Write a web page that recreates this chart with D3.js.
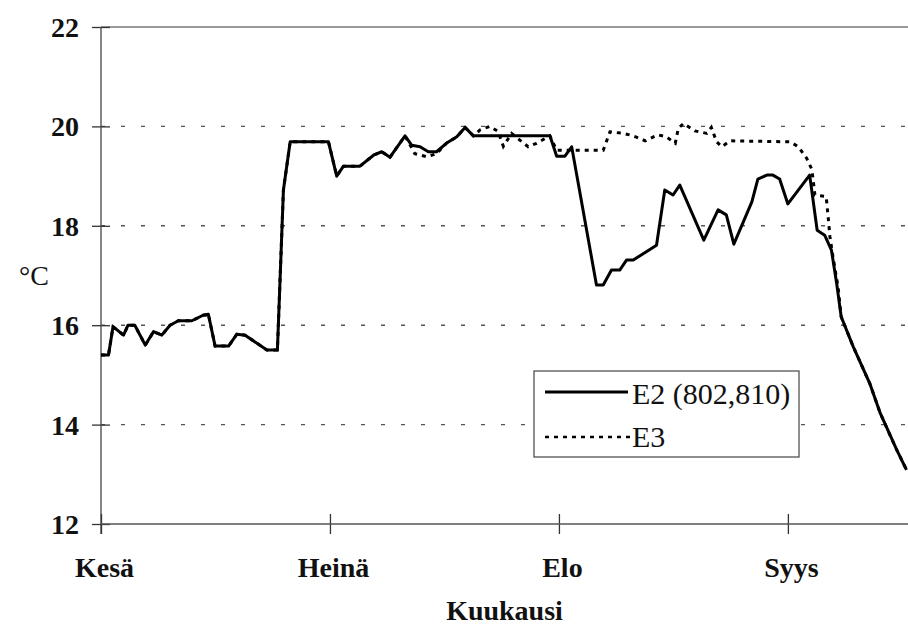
<!DOCTYPE html>
<html>
<head>
<meta charset="utf-8">
<script src="https://cdn.jsdelivr.net/npm/d3@7"></script>
</head>
<body style="margin:0; background:#fff">
<div id="viz"></div>
<script>
// day since 1 June
var e2Days = [0, 1.0, 1.6, 3.0, 3.6, 4.5, 5.9, 7.0, 8.1, 9.2, 10.3, 12.1, 13.6, 14.3, 15.2, 17.0, 18.1, 19.2, 22.1, 23.2, 23.5, 24.3, 25.2,
    30.3, 31.4, 32.3, 34.5, 36.3, 37.4, 38.5, 40.5, 41.4, 42.5, 43.6, 44.7, 46.0, 47.4, 48.5, 49.6, 59.8, 60.7, 61.8, 62.7,
    66.0, 66.9, 68.0, 69.1, 70.0, 70.9, 74.0, 75.1, 76.2, 77.1, 80.3, 82.2, 83.3, 84.3, 86.7, 87.5, 88.7, 89.5, 90.4, 91.5,
    94.4, 95.4, 96.4, 97.3, 98.0, 98.6, 100.2, 102.4, 103.8, 106.0, 107.3];
var e2Temp = [15.40, 15.40, 15.97, 15.80, 16.00, 16.00, 15.60, 15.87, 15.80, 16.00, 16.09, 16.09, 16.20, 16.22, 15.58, 15.58, 15.82, 15.80, 15.50, 15.50, 15.50, 18.72, 19.69,
    19.69, 19.00, 19.20, 19.20, 19.42, 19.49, 19.38, 19.81, 19.62, 19.59, 19.49, 19.49, 19.66, 19.79, 19.98, 19.81, 19.81, 19.40, 19.40, 19.59,
    16.81, 16.81, 17.11, 17.11, 17.31, 17.31, 17.61, 18.72, 18.62, 18.82, 17.71, 18.32, 18.22, 17.63, 18.48, 18.94, 19.02, 19.02, 18.94, 18.44,
    19.02, 17.91, 17.81, 17.51, 16.84, 16.17, 15.57, 14.83, 14.23, 13.49, 13.09];

var e3Days = [0, 1.0, 1.6, 3.0, 3.6, 4.5, 5.9, 7.0, 8.1, 9.2, 10.3, 12.1, 13.6, 14.3, 15.2, 17.0, 18.1, 19.2, 22.1, 23.2, 23.5, 24.3, 25.2,
    30.3, 31.4, 32.3, 34.5, 36.3, 37.4, 38.5, 40.5, 41.8, 43.4, 44.7, 46.0, 47.4, 48.5, 49.6, 50.5, 51.8, 52.9, 53.6, 54.7, 56.9, 58.0, 59.8, 60.7,
    66.9, 67.8, 69.6, 70.9, 72.5, 74.2, 75.3, 76.5, 76.9, 77.6, 79.1, 80.7, 81.3, 82.0, 82.7, 83.8, 91.8, 92.9, 94.0, 94.7, 95.1, 96.6, 96.9, 97.1, 97.5,
    98.2, 98.6, 100.2, 102.4, 103.8, 106.0, 107.3];
var e3Temp = [15.40, 15.40, 15.97, 15.80, 16.00, 16.00, 15.60, 15.87, 15.80, 16.00, 16.09, 16.09, 16.20, 16.22, 15.58, 15.58, 15.82, 15.80, 15.50, 15.50, 15.50, 18.72, 19.69,
    19.69, 19.00, 19.20, 19.20, 19.42, 19.49, 19.38, 19.81, 19.45, 19.39, 19.45, 19.66, 19.79, 19.98, 19.81, 19.93, 20.00, 19.90, 19.60, 19.86, 19.59, 19.66, 19.81, 19.52,
    19.52, 19.89, 19.86, 19.81, 19.71, 19.83, 19.79, 19.66, 19.96, 20.06, 19.91, 19.86, 19.98, 19.69, 19.59, 19.71, 19.69, 19.59, 19.36, 19.13, 18.62, 18.59, 18.12, 17.78, 17.38,
    16.75, 16.17, 15.57, 14.83, 14.23, 13.49, 13.09];

var monthTicks = [0, 30.5, 61, 91.5];
var monthLabels = ['Kesä', 'Heinä', 'Elo', 'Syys'];
var yTicks = [12, 14, 16, 18, 20, 22];
var gridValues = [14, 16, 18, 20];
var seriesNames = ['E2 (802,810)', 'E3'];

var W = 908, H = 629;
var margin = {top: 27, left: 101, bottom: 105, right: 0};
var serif = '"Liberation Serif"';

var svg = d3.select('#viz').append('svg')
    .attr('width', W)
    .attr('height', H)
    .style('display', 'block');

var x = d3.scaleLinear()
    .domain([0, 107.5])
    .range([margin.left, W - margin.right]);

var y = d3.scaleLinear()
    .domain([12, 22])
    .range([H - margin.bottom, margin.top]);

// gridlines
svg.append('g')
    .selectAll('line')
    .data(gridValues)
    .enter().append('line')
    .attr('x1', x(0)).attr('x2', W)
    .attr('y1', d => y(d)).attr('y2', d => y(d))
    .attr('stroke', '#555')
    .attr('stroke-width', 1.4)
    .attr('stroke-dasharray', '4,16');

// top frame line
svg.append('line')
    .attr('x1', x(0)).attr('x2', W)
    .attr('y1', y(22)).attr('y2', y(22))
    .attr('stroke', '#999')
    .attr('stroke-width', 2);

// y axis
var yAxis = svg.append('g')
    .attr('transform', 'translate(' + x(0) + ',0)')
    .attr('font-family', null)
    .call(d3.axisLeft(y).tickValues(yTicks).tickSize(9).tickFormat(d3.format('d')));
yAxis.attr('font-family', serif);
yAxis.select('.domain').remove();
yAxis.selectAll('.tick line').attr('x2', 9).attr('x1', -9).attr('stroke', '#333').attr('stroke-width', 1.3);
yAxis.selectAll('.tick text')
    .attr('x', -22)
    .attr('dy', '0.34em')
    .attr('fill', '#111')
    .attr('font-family', serif)
    .style('font-family', serif)
    .style('font-size', '28px')
    .style('font-weight', 'bold');

svg.append('line')
    .attr('x1', x(0)).attr('x2', x(0))
    .attr('y1', y(22)).attr('y2', y(12) + 10)
    .attr('stroke', '#444')
    .attr('stroke-width', 1.3);

// x axis
var xAxis = svg.append('g')
    .attr('transform', 'translate(0,' + y(12) + ')')
    .call(d3.axisBottom(x).tickValues(monthTicks).tickSize(10).tickFormat((d, i) => monthLabels[i]));
xAxis.attr('font-family', serif);
xAxis.select('.domain').remove();
xAxis.selectAll('.tick line').attr('y1', -10).attr('y2', 10).attr('stroke', '#333').attr('stroke-width', 1.3);
xAxis.selectAll('.tick text')
    .attr('x', 3)
    .attr('y', 53)
    .attr('dy', 0)
    .attr('fill', '#111')
    .attr('font-family', serif)
    .style('font-family', serif)
    .style('font-size', '28px')
    .style('font-weight', 'bold');

svg.append('line')
    .attr('x1', x(0)).attr('x2', W)
    .attr('y1', y(12)).attr('y2', y(12))
    .attr('stroke', '#555')
    .attr('stroke-width', 1.5);

// axis titles
svg.append('text')
    .attr('x', 34).attr('y', 285)
    .attr('text-anchor', 'middle')
    .style('font-family', serif)
    .style('font-size', '28px')
    .attr('fill', '#111')
    .text('°C');

svg.append('text')
    .attr('x', (x(0) + W) / 2).attr('y', 620)
    .attr('text-anchor', 'middle')
    .style('font-family', serif)
    .style('font-size', '28px')
    .style('font-weight', 'bold')
    .attr('fill', '#111')
    .text('Kuukausi');

// series
var line = d3.line()
    .x(d => x(d[0]))
    .y(d => y(d[1]));

var e3 = e3Days.map((d, i) => [d, e3Temp[i]]);
var e2 = e2Days.map((d, i) => [d, e2Temp[i]]);

svg.append('path')
    .datum(e3)
    .attr('d', line)
    .attr('fill', 'none')
    .attr('stroke', '#000')
    .attr('stroke-width', 3)
    .attr('stroke-dasharray', '4,5');

svg.append('path')
    .datum(e2)
    .attr('d', line)
    .attr('fill', 'none')
    .attr('stroke', '#000')
    .attr('stroke-width', 3)
    .attr('stroke-linejoin', 'round');

// legend
var legend = svg.append('g').attr('transform', 'translate(534,371)');
legend.append('rect')
    .attr('width', 265).attr('height', 86)
    .attr('fill', '#fff')
    .attr('stroke', '#444')
    .attr('stroke-width', 1.2);

legend.selectAll('line.key')
    .data(seriesNames)
    .enter().append('line')
    .attr('class', 'key')
    .attr('x1', 11).attr('x2', (d, i) => i === 0 ? 94 : 97)
    .attr('y1', (d, i) => 21 + i * 45).attr('y2', (d, i) => 21 + i * 45)
    .attr('stroke', '#000')
    .attr('stroke-width', (d, i) => i === 0 ? 3 : 2.5)
    .attr('stroke-dasharray', (d, i) => i === 0 ? null : '4,5');

legend.selectAll('text')
    .data(seriesNames)
    .enter().append('text')
    .attr('x', 98)
    .attr('y', (d, i) => 33 + i * 43)
    .style('font-family', serif)
    .style('font-size', '30px')
    .attr('fill', '#111')
    .text(d => d);
</script>
</body>
</html>
